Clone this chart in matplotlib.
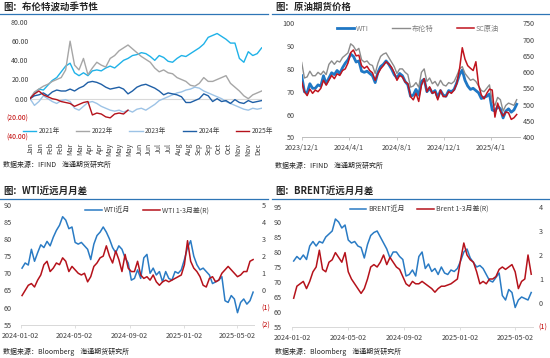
import numpy as np
import pandas as pd
import matplotlib
matplotlib.use('Agg')
import matplotlib.pyplot as plt
from matplotlib.lines import Line2D

plt.rcParams['font.family'] = ['Noto Sans CJK SC', 'DejaVu Sans']
plt.rcParams['axes.unicode_minus'] = False

W, H = 550, 358

# ---------------- data ----------------
# panel 1: Brent change since start of year, one point per week (day of year)
season_days = np.arange(0, 365, 7)
brent_2021 = [0, 6, 10, 9, 14, 19, 22, 28, 34, 37, 27, 24, 27, 24, 29, 30, 29, 32, 34, 32,
              36, 40, 42, 45, 46, 48, 47, 44, 40, 45, 43, 39, 38, 42, 45, 44, 47, 50, 53, 57,
              64, 66, 68, 65, 62, 58, 58, 42, 38, 49, 45, 47, 53]
brent_2022 = [0, 7, 10, 13, 15, 18, 20, 22, 30, 60, 35, 30, 42, 25, 32, 38, 35, 33, 42, 45,
              50, 53, 56, 52, 48, 44, 41, 38, 32, 28, 30, 27, 26, 22, 20, 18, 14, 13, 16, 22,
              18, 18, 20, 22, 24, 16, 12, 8, 3, 0, 4, 6, 8]
brent_2023 = [0, -7, -3, 3, 0, -3, -5, -2, -1, -3, -10, -12, -8, -4, -3, -5, -8, -10, -12, -13,
              -12, -14, -12, -14, -11, -10, -12, -9, -6, -2, 0, 2, 4, 6, 7, 9, 10, 12, 11, 8,
              6, 4, 2, 0, -3, -5, -7, -9, -11, -12, -10, -11, -10]
brent_2024 = [0, 3, 4, 6, 3, 7, 9, 8, 8, 10, 8, 11, 13, 17, 18, 17, 15, 12, 10, 11,
              12, 10, 5, 8, 12, 14, 15, 13, 11, 8, 4, 6, 5, 4, 2, -4, -4, -2, 0, 5,
              3, -3, 0, -3, -2, -5, -1, -4, -5, -2, -4, -3, -2]
brent_2025 = [0, 5, 8, 4, 2, 0, -1, -3, -4, -5, -8, -6, -4, -3, -17, -15, -16, -19, -20, -16,
              -15, -16, -12]
season_years = ['2021年', '2022年', '2023年', '2024年', '2025年']
season_colors = ['#1fb2e8', '#a6a6a6', '#9dc3e6', '#1f5fa6', '#b5121b']
season_xlabels = ['Jan', 'Jan', 'Feb', 'Feb', 'Mar', 'Mar', 'Apr', 'Apr', 'May', 'May', 'May', 'Jun',
                  'Jun', 'Jul', 'Jul', 'Aug', 'Aug', 'Sep', 'Sep', 'Oct', 'Oct', 'Nov', 'Nov', 'Dec']
season_yticks = [80, 60, 40, 20, 0, -20, -40]
season_ylabels = ['80.00', '60.00', '40.00', '20.00', '0.00', '(20.00)', '(40.00)']

# weekly prices, Fridays from 2023-12-01
price_dates = pd.date_range('2023-12-01', periods=80, freq='W-FRI')
wti_dec23 = [77.0, 70.0, 69.5, 73.5, 71.5]
wti_near = [71.5, 73.0, 72.4, 77.0, 73.5, 76.0, 78.3, 77.5, 79.3, 78.0,
            80.5, 82.5, 84.0, 86.5, 85.5, 83.0, 83.5, 79.0, 78.5, 79.0,
            78.0, 77.0, 74.0, 78.5, 81.0, 82.0, 83.5, 82.0, 80.0, 77.5,
            76.0, 78.0, 77.0, 74.5, 73.0, 68.0, 68.5, 71.0, 68.5, 74.5,
            75.5, 70.0, 71.5, 69.5, 70.5, 67.5, 70.5, 68.5, 68.0, 70.5,
            70.0, 71.0, 74.0, 77.5, 79.5, 75.0, 72.5, 71.0, 71.5, 70.5,
            69.5, 67.0, 67.5, 68.0, 69.0, 62.0, 61.5, 63.5, 62.5, 58.5,
            61.5, 62.5, 61.0, 62.0, 64.5]
brent_dec23 = [82.8, 76.0, 76.5, 79.0, 77.0]
brent_near = [77.0, 78.5, 77.5, 79.0, 77.5, 82.0, 83.5, 82.0, 83.5, 83.0,
              85.0, 86.0, 87.0, 91.0, 90.0, 88.0, 89.0, 84.0, 83.0, 83.5,
              82.0, 81.5, 78.0, 82.5, 85.5, 86.5, 87.0, 85.0, 83.0, 81.0,
              78.0, 80.0, 80.0, 78.5, 77.5, 72.0, 72.5, 74.0, 72.0, 78.5,
              80.0, 74.5, 76.0, 73.5, 74.5, 72.5, 75.0, 73.0, 72.5, 74.0,
              73.5, 74.5, 77.0, 80.0, 81.0, 78.0, 76.5, 75.0, 75.5, 74.5,
              72.5, 70.5, 70.0, 71.5, 73.0, 65.5, 64.0, 67.5, 66.5, 61.5,
              64.0, 65.0, 64.5, 64.0, 66.5]
sc_price = [570, 540, 528, 548, 535, 545, 540, 550, 575, 560,
            575, 590, 580, 595, 590, 605, 610, 628, 660, 668,
            650, 652, 620, 612, 618, 605, 598, 575, 595, 610,
            620, 632, 625, 615, 598, 575, 590, 585, 570, 565,
            525, 515, 535, 510, 560, 580, 540, 555, 535, 540,
            515, 545, 525, 525, 540, 535, 545, 565, 610, 675,
            640, 620, 612, 605, 632, 560, 530, 518, 535, 548,
            545, 462, 505, 480, 465, 478, 475, 455, 460, 470]
wti_price = wti_dec23 + wti_near
brent_price = brent_dec23 + brent_near

# near-month and 1-3 spreads, from 2024-01-05
spread_dates = price_dates[5:]
wti_spread = [-0.3, 0.0, 0.3, 0.4, 0.2, 0.6, 0.9, 1.5, 1.7, 1.1,
              1.3, 1.6, 1.5, 1.9, 1.7, 1.1, 1.4, 1.2, 1.0, 0.9,
              1.0, 0.5, 0.8, 1.4, 1.6, 1.9, 2.0, 2.6, 2.0, 1.6,
              2.3, 1.8, 1.1, 2.1, 1.3, 1.1, 1.1, 1.7, 0.9, 0.7,
              0.8, 0.6, 0.9, 0.5, 0.3, 0.5, 0.6, 0.5, 0.6, 0.7,
              0.8, 0.9, 1.5, 2.9, 1.7, 1.3, 1.1, 0.8, 0.3, 0.2,
              0.7, 0.8, 0.5, 0.6, 1.0, 1.2, 1.4, 1.2, 1.0, 0.8,
              0.9, 1.1, 1.1, 1.7, 1.8]
brent_spread = [0.2, 0.7, 0.8, 0.9, 0.6, 0.9, 1.3, 1.5, 2.2, 1.4,
                1.3, 1.7, 1.8, 2.1, 1.9, 1.7, 2.1, 1.3, 1.0, 0.8,
                0.6, 0.4, 0.6, 1.0, 1.5, 1.6, 1.5, 1.7, 2.0, 1.6,
                1.9, 1.7, 1.5, 1.4, 1.1, 0.8, 0.7, 0.9, 0.8, 0.8,
                0.9, 0.8, 0.7, 0.6, 0.45, 0.6, 0.7, 0.7, 0.75, 0.8,
                0.9, 1.0, 1.8, 2.5, 2.0, 1.8, 1.7, 1.3, 0.8, 0.9,
                0.8, 1.0, 1.0, 1.1, 1.4, 1.5, 1.4, 1.5, 1.6, 1.3,
                0.6, 0.9, 1.0, 2.0, 1.2]

p2_tick_dates = pd.to_datetime(['2023-12-01', '2024-04-01', '2024-08-01', '2024-12-01', '2025-04-01'])
p2_tick_labels = ['2023/12/1', '2024/4/1', '2024/8/1', '2024/12/1', '2025/4/1']
p34_tick_dates = pd.to_datetime(['2024-01-02', '2024-05-02', '2024-09-02', '2025-01-02', '2025-05-02'])
p34_tick_labels = ['2024-01-02', '2024-05-02', '2024-09-02', '2025-01-02', '2025-05-02']

TXT = '#404040'
NEG = '#c00000'
BLUE = '#2a7bc4'
RED = '#b5121b'


def fx(x):
    return x / W


def fy(y):
    return 1 - y / H


def box(x0, y0, x1, y1):
    return [fx(x0), fy(y1), (x1 - x0) / W, (y1 - y0) / H]


fig = plt.figure(figsize=(5.5, 3.58), dpi=100)


def header(x0, x1, y_text, y_line, title):
    fig.text(fx(x0), fy(y_text), title, fontsize=6.8, fontweight='bold',
             color='#262626', va='center', ha='left')
    fig.add_artist(Line2D([fx(x0 - 3), fx(x1)], [fy(y_line)] * 2, color='#2e75b6', lw=0.9))


def source(x0, y, text):
    fig.text(fx(x0), fy(y), text, fontsize=5, color='#262626', va='center', ha='left')


def red_negatives(ax, values, labels):
    ax.set_yticks(values)
    ax.set_yticklabels(labels)
    for lab, v in zip(ax.get_yticklabels(), values):
        lab.set_color(NEG if v < 0 else TXT)


# ---------------- panel 1 ----------------
header(3, 268, 7, 14, '图：布伦特波动季节性')
ax1 = fig.add_axes(box(30, 22, 262.3, 137))
for name, vals, c in zip(season_years, [brent_2021, brent_2022, brent_2023, brent_2024, brent_2025],
                         season_colors):
    ax1.plot(season_days[:len(vals)], vals, color=c, lw=1.0, label=name)
ax1.axhline(0, color='#d9d9d9', lw=0.8, zorder=0)
ax1.set_xlim(0, 365)
ax1.set_ylim(-40, 80)
ax1.set_xticks(np.linspace(1, 358, 24))
ax1.set_xticklabels(season_xlabels, rotation=90)
ax1.tick_params(length=0, labelsize=5, colors=TXT, pad=1)
ax1.tick_params(axis='x', pad=4)
red_negatives(ax1, season_yticks, season_ylabels)
for s in ax1.spines.values():
    s.set_visible(False)
ax1.legend(loc='center', bbox_to_anchor=(fx(148), fy(131)), bbox_transform=fig.transFigure,
           ncol=5, frameon=False, fontsize=4.8, handlelength=2.0, handletextpad=0.4,
           columnspacing=2.4, labelcolor=TXT)
source(3, 165, '数据来源：IFIND    海通期货研究所')

# ---------------- panel 2 ----------------
header(275, 550, 7, 14, '图：原油期货价格')
ax2 = fig.add_axes(box(301.7, 23.3, 520.2, 137.3))
ax2.plot(price_dates, wti_price, color='#1f77c4', lw=2.0, label='WTI')
ax2.plot(price_dates, brent_price, color='#8c8c8c', lw=1.0, label='布伦特')
ax2b = ax2.twinx()
ax2b.plot(price_dates, sc_price, color='#c0141e', lw=1.1, label='SC原油')
ax2.set_xlim(pd.Timestamp('2023-12-01'), pd.Timestamp('2025-06-15'))
ax2.set_ylim(50, 100)
ax2b.set_ylim(400, 750)
ax2.set_xticks(p2_tick_dates)
ax2.set_xticklabels(p2_tick_labels)
ax2.set_yticks([50, 60, 70, 80, 90, 100])
ax2b.set_yticks([400, 450, 500, 550, 600, 650, 700, 750])
ax2.tick_params(axis='y', length=0, labelsize=5.2, colors=TXT, pad=5)
ax2b.tick_params(axis='y', length=0, labelsize=5.2, colors=TXT, pad=2)
ax2.tick_params(axis='x', length=2.5, width=0.6, color='#bfbfbf', labelsize=5.2, labelcolor=TXT, pad=2.5)
for a in (ax2, ax2b):
    for k, s in a.spines.items():
        s.set_visible(k == 'bottom')
        s.set_color('#bfbfbf')
        s.set_linewidth(0.7)
h = [ax2.get_lines()[0], ax2.get_lines()[1], ax2b.get_lines()[0]]
ax2b.legend(h, [l.get_label() for l in h], loc='center', bbox_to_anchor=(fx(418), fy(28.7)),
            bbox_transform=fig.transFigure, ncol=3, frameon=False, fontsize=5.2,
            handlelength=2.4, handletextpad=0.3, columnspacing=3.2, labelcolor='#7f7f7f')
source(275, 166, '数据来源：IFIND    海通期货研究所')


# ---------------- panels 3 and 4 ----------------
def spread_panel(x0, x1, title, box_px, near, spread, ylim, rlim, rticks, rlabels, xend,
                 names, leg_xy, lpad, rpad):
    header(x0, x1, 191, 199, title)
    ax = fig.add_axes(box(*box_px))
    ax.plot(spread_dates, near, color=BLUE, lw=1.1, label=names[0])
    axr = ax.twinx()
    axr.plot(spread_dates, spread, color=RED, lw=1.1, label=names[1])
    ax.set_xlim(pd.Timestamp('2024-01-02'), pd.Timestamp(xend))
    ax.set_ylim(*ylim)
    axr.set_ylim(*rlim)
    ax.set_yticks(np.arange(ylim[0], ylim[1] + 1, 5))
    red_negatives(axr, rticks, rlabels)
    ax.set_xticks(p34_tick_dates)
    ax.set_xticklabels(p34_tick_labels)
    ax.tick_params(axis='y', length=0, labelsize=5.2, colors=TXT, pad=lpad)
    axr.tick_params(axis='y', length=0, labelsize=5.2, pad=rpad)
    ax.tick_params(axis='x', length=2.5, width=0.6, color='#d9d9d9', labelsize=5.2,
                   labelcolor=TXT, pad=2.5)
    for a in (ax, axr):
        for k, s in a.spines.items():
            s.set_visible(k == 'bottom')
            s.set_color('#d9d9d9')
            s.set_linewidth(0.7)
    hh = [ax.get_lines()[0], axr.get_lines()[0]]
    axr.legend(hh, names, loc='center', bbox_to_anchor=(fx(leg_xy[0]), fy(leg_xy[1])),
               bbox_transform=fig.transFigure, ncol=2, frameon=False, fontsize=5,
               handlelength=2.4, handletextpad=0.3, columnspacing=1.8, labelcolor=TXT)
    source(x0, 352, '数据来源：Bloomberg    海通期货研究所')


spread_panel(3, 268, '图：WTI近远月月差', (20.7, 204.7, 254, 324.7), wti_near, wti_spread,
             (55, 90), (-2, 5), [5, 4, 3, 2, 1, 0, -1, -2],
             ['5', '4', '3', '2', '1', '0', '(1)', '(2)'], '2025-06-08',
             ['WTI近月', 'WTI 1-3月差(R)'], (147, 210.3), 6.5, 5.5)
spread_panel(275, 550, '图：BRENT近远月月差', (292.3, 207, 532.6, 327), brent_near, brent_spread,
             (55, 95), (-1, 4), [4, 3, 2, 1, 0, -1],
             ['4', '3', '2', '1', '0', '(1)'], '2025-06-09',
             ['BRENT近月', 'Brent 1-3月差(R)'], (419, 209), 7.5, 4.5)

fig.savefig('out.png', dpi=100)
